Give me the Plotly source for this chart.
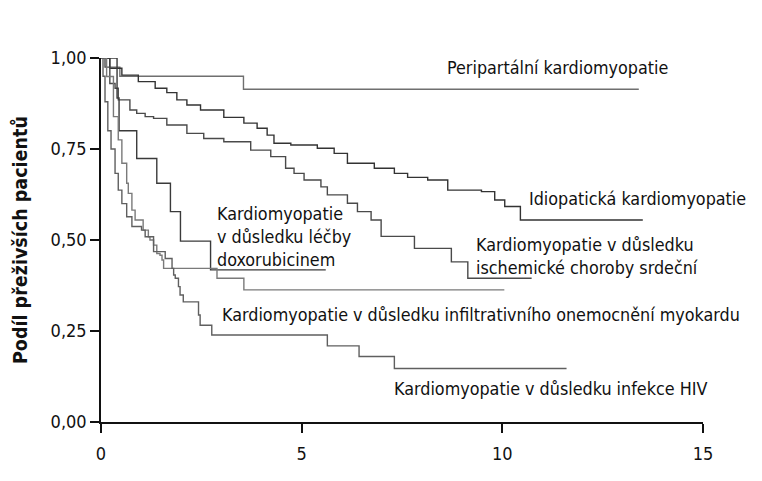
import plotly.graph_objects as go

# ---- data (time in years, proportion surviving) ----
peri_t = [0, 0.22, 0.47, 3.55, 13.4]
peri_s = [1.0, 0.975, 0.95, 0.914, 0.914]

idio_t = [0, 0.22, 0.52, 0.93, 1.35, 1.64, 1.89, 2.14, 2.48, 3.06, 3.56, 3.89, 4.14, 4.31,
          4.73, 5.39, 5.81, 6.14, 6.81, 7.31, 7.64, 8.14, 8.64, 9.48, 9.81, 10.06, 10.45, 13.5]
idio_s = [1.0, 0.972, 0.953, 0.935, 0.917, 0.905, 0.885, 0.871, 0.857, 0.837, 0.821, 0.807, 0.788, 0.766,
          0.761, 0.752, 0.738, 0.711, 0.697, 0.683, 0.672, 0.665, 0.637, 0.633, 0.61, 0.592, 0.555, 0.555]

isch_t = [0, 0.1, 0.22, 0.35, 0.43, 0.72, 0.89, 1.1, 1.31, 1.64, 2.14, 2.56, 3.06, 3.73, 4.23, 4.6,
          4.81, 5.06, 5.48, 5.64, 6.14, 6.39, 6.73, 6.98, 7.81, 8.73, 9.14, 10.73]
isch_s = [1.0, 0.975, 0.93, 0.917, 0.885, 0.857, 0.848, 0.839, 0.834, 0.816, 0.793, 0.779, 0.770, 0.747, 0.729, 0.697,
          0.683, 0.665, 0.646, 0.624, 0.601, 0.578, 0.555, 0.510, 0.477, 0.440, 0.395, 0.395]

doxo_t = [0, 0.4, 0.45, 0.89, 1.39, 1.73, 1.98, 2.73, 5.6]
doxo_s = [1.0, 0.89, 0.80, 0.724, 0.656, 0.578, 0.497, 0.418, 0.418]

infi_t = [0, 0.14, 0.31, 0.43, 0.52, 0.64, 0.68, 0.77, 0.85, 1.05, 1.18, 1.22, 1.31, 1.39, 1.47, 1.52,
          1.56, 2.89, 3.56, 10.05]
infi_s = [1.0, 0.949, 0.839, 0.775, 0.711, 0.656, 0.628, 0.582, 0.555, 0.527, 0.509, 0.50, 0.486, 0.463, 0.458, 0.445,
          0.422, 0.395, 0.363, 0.363]

hiv_t = [0, 0.05, 0.1, 0.17, 0.25, 0.35, 0.43, 0.52, 0.64, 0.77, 1.01, 1.1, 1.31, 1.6, 1.77, 1.81, 1.85,
         1.93, 1.97, 2.05, 2.43, 2.47, 2.76, 5.64, 6.43, 7.31, 11.6]
hiv_s = [1.0, 0.95, 0.88, 0.80, 0.75, 0.683, 0.637, 0.60, 0.564, 0.537, 0.527, 0.509, 0.468, 0.449, 0.422, 0.404, 0.395,
         0.372, 0.349, 0.330, 0.294, 0.266, 0.239, 0.209, 0.180, 0.147, 0.147]

x_ticks = [0, 5, 10, 15]
y_ticks = [0, 0.25, 0.5, 0.75, 1.0]
y_ticktext = ["0,00", "0,25", "0,50", "0,75", "1,00"]

FONT = "Liberation Sans Narrow, DejaVu Sans Condensed, Arial Narrow, sans-serif"

series = [
    (peri_t, peri_s, "#6f6f6f"),
    (idio_t, idio_s, "#333333"),
    (isch_t, isch_s, "#4a4a4a"),
    (doxo_t, doxo_s, "#3a3a3a"),
    (infi_t, infi_s, "#7a7a7a"),
    (hiv_t, hiv_s, "#5f5f5f"),
]

fig = go.Figure()
for t, s, c in series:
    fig.add_trace(go.Scatter(x=t, y=s, mode="lines", line=dict(shape="hv", color=c, width=1.4),
                             showlegend=False, hoverinfo="skip"))

labels = [
    (8.57, 0.973, "Peripartální kardiomyopatie"),
    (10.62, 0.613, "Idiopatická kardiomyopatie"),
    (9.3, 0.456, "Kardiomyopatie v důsledku<br>ischemické choroby srdeční"),
    (2.84, 0.511, "Kardiomyopatie<br>v důsledku léčby<br>doxorubicinem"),
    (2.97, 0.294, "Kardiomyopatie v důsledku infiltrativního onemocnění myokardu"),
    (7.25, 0.091, "Kardiomyopatie v důsledku infekce HIV"),
]
for x, y, txt in labels:
    fig.add_annotation(x=x, y=y, text=txt, showarrow=False, xanchor="left", yanchor="middle",
                       align="left", font=dict(family=FONT, size=17.8, color="#111111"))

fig.add_annotation(xref="paper", yref="paper", x=-81 / 602, y=0.5, text="<b>Podíl přeživších pacientů</b>",
                   textangle=-90, showarrow=False, xanchor="center", yanchor="middle",
                   font=dict(family=FONT, size=19.5, color="#111111"))

axis_common = dict(showgrid=False, zeroline=False, showline=True, linecolor="#111111", linewidth=1.5,
                   ticks="outside", ticklen=9, tickwidth=1.5, tickcolor="#111111",
                   tickfont=dict(family=FONT, size=18, color="#111111"))

fig.update_xaxes(range=[0, 15], tickvals=x_ticks, ticktext=[str(v) for v in x_ticks],
                 ticklabelstandoff=6, **axis_common)
fig.update_yaxes(range=[0, 1], tickvals=y_ticks, ticktext=y_ticktext, **axis_common)

# page body has an 8px margin, so the figure is offset by 8px right and down
fig.update_layout(width=754, height=473, margin=dict(l=93, r=59, t=50, b=59),
                  plot_bgcolor="white", paper_bgcolor="white", font=dict(family=FONT))

fig.write_html("out.html")
